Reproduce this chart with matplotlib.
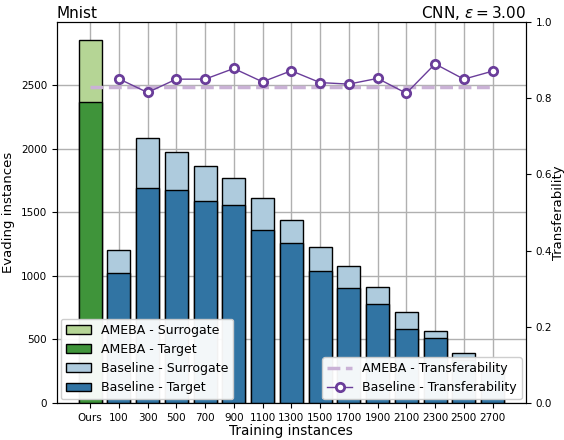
import matplotlib
matplotlib.use("Agg")
import matplotlib.pyplot as plt

# x categories
labels = ["Ours", "100", "300", "500", "700", "900", "1100", "1300", "1500",
          "1700", "1900", "2100", "2300", "2500", "2700"]

# evading instances for our method
ameba_surrogate = 2855
ameba_target = 2370

# evading instances for the baseline at each training size
base_surrogate = [1200, 2080, 1970, 1867, 1772, 1611, 1438, 1228,
                  1075, 912, 712, 570, 397, 290]
base_target = [1023, 1693, 1677, 1588, 1559, 1359, 1259, 1036,
               901, 778, 581, 513, 337, 252]

# transferability (right axis)
ameba_transfer = 0.83
base_transfer = [0.851, 0.815, 0.850, 0.850, 0.878, 0.843, 0.872, 0.841,
                 0.837, 0.852, 0.813, 0.890, 0.850, 0.871]

c_lgreen = "#b5d595"
c_dgreen = "#3f943a"
c_lblue = "#aecbdd"
c_dblue = "#3174a3"
c_purple = "#6a3d9a"
c_lpurple = "#cab2d6"

fig, ax = plt.subplots(figsize=(5.64, 4.4), dpi=100)
fig.subplots_adjust(left=0.101, right=0.932, top=0.95, bottom=0.084)

xs = list(range(len(labels)))
bx = xs[1:]

ax.bar(0, ameba_surrogate, width=0.8, color=c_lgreen, edgecolor="black",
       linewidth=1, label="AMEBA - Surrogate", zorder=3)
ax.bar(0, ameba_target, width=0.8, color=c_dgreen, edgecolor="black",
       linewidth=1, label="AMEBA - Target", zorder=3)
ax.bar(bx, base_surrogate, width=0.8, color=c_lblue, edgecolor="black",
       linewidth=1, label="Baseline - Surrogate", zorder=3)
ax.bar(bx, base_target, width=0.8, color=c_dblue, edgecolor="black",
       linewidth=1, label="Baseline - Target", zorder=3)

ax.set_xlim(-1.15, 15.15)
ax.set_ylim(0, 2995)
ax.set_xticks(xs)
ax.set_xticklabels(labels, fontsize=7.5)
ax.tick_params(axis="y", labelsize=7.5)
ax.grid(True, color="#b0b0b0", linewidth=1, zorder=0)
ax.set_axisbelow(True)
ax.set_xlabel("Training instances", fontsize=9.8, labelpad=1)
ax.set_ylabel("Evading instances", fontsize=9.5)
ax.set_title("Mnist", loc="left", fontsize=11, pad=3)
ax.set_title(r"CNN, $\epsilon = 3.00$", loc="right", fontsize=11, pad=3)

ax2 = ax.twinx()
ax2.plot([0, xs[-1]], [ameba_transfer, ameba_transfer], "--", color=c_lpurple,
         linewidth=2.5, label="AMEBA - Transferability")
ax2.plot(bx, base_transfer, "-o", color=c_purple, linewidth=1,
         markersize=6, markerfacecolor="white", markeredgewidth=2,
         label="Baseline - Transferability")
ax2.set_ylim(0, 1.0)
ax2.tick_params(axis="y", labelsize=7.5)
ax2.set_ylabel("Transferability", fontsize=9.5, labelpad=0)

leg1 = ax.legend(loc="lower left", fontsize=9, borderaxespad=0.3,
                 framealpha=0.95)
leg1.set_zorder(10)
ax2.legend(loc="lower right", fontsize=9, borderaxespad=0.3, framealpha=0.95)

fig.savefig("out.png", dpi=100)
